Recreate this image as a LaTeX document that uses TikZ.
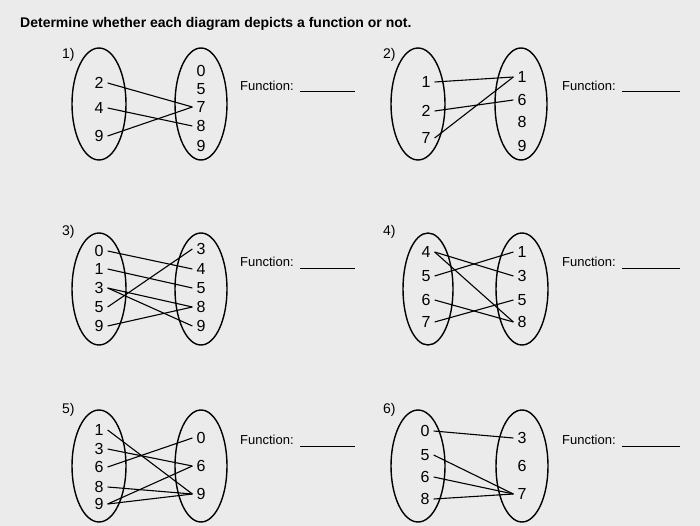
\documentclass[tikz,border=0pt]{standalone}
\usepackage{fontspec}
\setmainfont{Liberation Sans}
\usetikzlibrary{shapes.geometric}
\begin{document}
\begin{tikzpicture}[x=1pt,y=-1pt,
  ell/.style={draw,ellipse,line width=1.4pt,minimum width=54pt,minimum height=112pt,inner sep=0pt},
  num/.style={font=\fontsize{16}{16}\selectfont,inner sep=4pt},
  lbl/.style={font=\fontsize{13}{13}\selectfont,anchor=west,inner sep=0pt},
  idx/.style={font=\fontsize{14}{14}\selectfont,anchor=west,inner sep=0pt},
  lnk/.style={line width=1.1pt},
  uline/.style={line width=1pt}]
\fill[gray!16] (0,0) rectangle (700,526);
\useasboundingbox (0,0) rectangle (700,526);
\node[anchor=west,font=\bfseries\fontsize{14}{14}\selectfont,inner sep=0pt] (title) at (20,24) {Determine whether each diagram depicts a function or not.};
% ---------- 1
\node[idx] (n1) at (62,55) {1)};
\node[ell] (L1) at (99,104) {};
\node[ell,minimum width=52pt] (R1) at (201,104) {};
\node[num] (a1-2) at (99,83) {2};
\node[num] (a1-4) at (99,108) {4};
\node[num] (a1-9) at (99,136) {9};
\node[num] (b1-0) at (201,71) {0};
\node[num] (b1-5) at (201,89) {5};
\node[num] (b1-7) at (201,107) {7};
\node[num] (b1-8) at (201,126) {8};
\node[num] (b1-9) at (201,146) {9};
\draw[lnk] (a1-2.east) -- (b1-7.west);
\draw[lnk] (a1-4.east) -- (b1-8.west);
\draw[lnk] (a1-9.east) -- (b1-7.west);
\node[lbl] (f1) at (240,86) {Function:};
\coordinate (u1a) at (300,92); \coordinate (u1b) at (355,92);
\draw[uline] (u1a) -- (u1b);
% ---------- 2
\node[idx] (n2) at (383,55) {2)};
\node[ell] (L2) at (418,104) {};
\node[ell,minimum width=52pt] (R2) at (521,104) {};
\node[num] (a2-1) at (426,82) {1};
\node[num] (a2-2) at (426,111) {2};
\node[num] (a2-7) at (426,138) {7};
\node[num] (b2-1) at (522,77) {1};
\node[num] (b2-6) at (522,100) {6};
\node[num] (b2-8) at (522,122) {8};
\node[num] (b2-9) at (522,146) {9};
\draw[lnk] (a2-1.east) -- (b2-1.west);
\draw[lnk] (a2-2.east) -- (b2-6.west);
\draw[lnk] (a2-7.east) -- (b2-1.west);
\node[lbl] (f2) at (562,86) {Function:};
\coordinate (u2a) at (622,92); \coordinate (u2b) at (680,92);
\draw[uline] (u2a) -- (u2b);
% ---------- 3
\node[idx] (n3) at (62,232) {3)};
\node[ell] (L3) at (99,289) {};
\node[ell,minimum width=52pt] (R3) at (201,289) {};
\node[num] (a3-0) at (99,251) {0};
\node[num] (a3-1) at (99,269) {1};
\node[num] (a3-3) at (99,288) {3};
\node[num] (a3-5) at (99,307) {5};
\node[num] (a3-9) at (99,326) {9};
\node[num] (b3-3) at (201,249) {3};
\node[num] (b3-4) at (201,269) {4};
\node[num] (b3-5) at (201,288) {5};
\node[num] (b3-8) at (201,307) {8};
\node[num] (b3-9) at (201,326) {9};
\draw[lnk] (a3-0.east) -- (b3-4.west);
\draw[lnk] (a3-1.east) -- (b3-5.west);
\draw[lnk] (a3-3.east) -- (b3-8.west);
\draw[lnk] (a3-3.east) -- (b3-9.west);
\draw[lnk] (a3-5.east) -- (b3-3.west);
\draw[lnk] (a3-9.east) -- (b3-8.west);
\node[lbl] (f3) at (240,262) {Function:};
\coordinate (u3a) at (300,268); \coordinate (u3b) at (355,268);
\draw[uline] (u3a) -- (u3b);
% ---------- 4
\node[idx] (n4) at (383,232) {4)};
\node[ell,minimum width=50pt] (L4) at (428,289) {};
\node[ell,minimum width=52pt] (R4) at (522,289) {};
\node[num] (a4-4) at (426,252) {4};
\node[num] (a4-5) at (426,276) {5};
\node[num] (a4-6) at (426,300) {6};
\node[num] (a4-7) at (426,322) {7};
\node[num] (b4-1) at (522,252) {1};
\node[num] (b4-3) at (522,276) {3};
\node[num] (b4-5) at (522,300) {5};
\node[num] (b4-8) at (522,322) {8};
\draw[lnk] (a4-4.east) -- (b4-3.west);
\draw[lnk] (a4-4.east) -- (b4-8.west);
\draw[lnk] (a4-5.east) -- (b4-1.west);
\draw[lnk] (a4-6.east) -- (b4-8.west);
\draw[lnk] (a4-7.east) -- (b4-5.west);
\node[lbl] (f4) at (562,262) {Function:};
\coordinate (u4a) at (622,268); \coordinate (u4b) at (680,268);
\draw[uline] (u4a) -- (u4b);
% ---------- 5
\node[idx] (n5) at (62,410) {5)};
\node[ell] (L5) at (99,466) {};
\node[ell,minimum width=52pt] (R5) at (201,466) {};
\node[num] (a5-1) at (99,430) {1};
\node[num] (a5-3) at (99,449) {3};
\node[num] (a5-6) at (99,467) {6};
\node[num] (a5-8) at (99,487) {8};
\node[num] (a5-9) at (99,504) {9};
\node[num] (b5-0) at (201,438) {0};
\node[num] (b5-6) at (201,466) {6};
\node[num] (b5-9) at (201,494) {9};
\draw[lnk] (a5-1.east) -- (b5-9.west);
\draw[lnk] (a5-3.east) -- (b5-6.west);
\draw[lnk] (a5-6.east) -- (b5-0.west);
\draw[lnk] (a5-8.east) -- (b5-9.west);
\draw[lnk] (a5-9.east) -- (b5-6.west);
\draw[lnk] (a5-9.east) -- (b5-9.west);
\node[lbl] (f5) at (240,440) {Function:};
\coordinate (u5a) at (300,446); \coordinate (u5b) at (355,446);
\draw[uline] (u5a) -- (u5b);
% ---------- 6
\node[idx] (n6) at (383,410) {6)};
\node[ell] (L6) at (418,466) {};
\node[ell,minimum width=52pt] (R6) at (522,466) {};
\node[num] (a6-0) at (425,431) {0};
\node[num] (a6-5) at (425,455) {5};
\node[num] (a6-6) at (425,477) {6};
\node[num] (a6-8) at (425,499) {8};
\node[num] (b6-3) at (522,438) {3};
\node[num] (b6-6) at (522,466) {6};
\node[num] (b6-7) at (522,494) {7};
\draw[lnk] (a6-0.east) -- (b6-3.west);
\draw[lnk] (a6-5.east) -- (b6-7.west);
\draw[lnk] (a6-6.east) -- (b6-7.west);
\draw[lnk] (a6-8.east) -- (b6-7.west);
\node[lbl] (f6) at (562,440) {Function:};
\coordinate (u6a) at (622,446); \coordinate (u6b) at (680,446);
\draw[uline] (u6a) -- (u6b);
\end{tikzpicture}
\end{document}
